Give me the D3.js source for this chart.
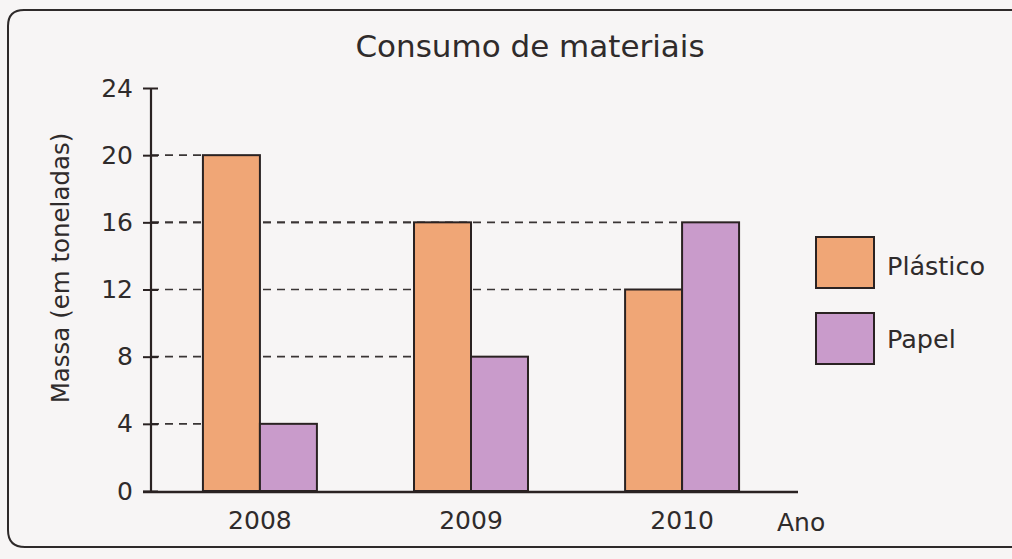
<!DOCTYPE html>
<html>
<head>
<meta charset="utf-8">
<script src="https://cdn.jsdelivr.net/npm/d3@7"></script>
<style>
  html, body { margin: 0; padding: 0; background: #f7f5f5; }
  svg { display: block; }
  text { font-family: "DejaVu Sans", sans-serif; fill: #2f2b2b; }
</style>
</head>
<body>
<svg id="chart" width="1012" height="559"></svg>
<script>
const years = ["2008", "2009", "2010"];
const seriesNames = ["Plástico", "Papel"];
const plastico = [20, 16, 12];
const papel = [4, 8, 16];
const yTicks = [0, 4, 8, 12, 16, 20, 24];
const colors = ["#f0a676", "#c99bcb"];

const svg = d3.select("#chart");

// frame
svg.append("path")
  .attr("d", "M1030,10 L24,10 Q8,10 8,26 L8,530 Q8,547 25,547 L1030,547")
  .attr("fill", "none").attr("stroke", "#2e2a2a").attr("stroke-width", 2);

const y = d3.scaleLinear().domain([0, 24]).range([491, 88]);
const x0 = d3.scaleBand().domain(years).range([151, 791]).paddingInner(0.46).paddingOuter(0.246);
const x1 = d3.scaleBand().domain(seriesNames).range([0, x0.bandwidth()]);

// title
svg.append("text").attr("x", 530).attr("y", 57).attr("text-anchor", "middle")
  .style("font-size", "31px").text("Consumo de materiais");

// dashed guide lines from axis to each bar's top
const data = [];
years.forEach((yr, i) => {
  data.push({year: yr, s: "Plástico", v: plastico[i], c: colors[0]});
  data.push({year: yr, s: "Papel", v: papel[i], c: colors[1]});
});
svg.append("g").selectAll("line").data(data).join("line")
  .attr("x1", 151).attr("x2", d => x0(d.year) + x1(d.s))
  .attr("y1", d => y(d.v)).attr("y2", d => y(d.v))
  .attr("stroke", "#3a3535").attr("stroke-width", 1.6).attr("stroke-dasharray", "8,6");

// bars
svg.append("g").selectAll("rect").data(data).join("rect")
  .attr("x", d => x0(d.year) + x1(d.s))
  .attr("y", d => y(d.v))
  .attr("width", x1.bandwidth())
  .attr("height", d => y(0) - y(d.v))
  .attr("fill", d => d.c)
  .attr("stroke", "#2a2222").attr("stroke-width", 2);

// y axis
const yAxis = d3.axisLeft(y).tickValues(yTicks).tickSize(0).tickPadding(18);
const gy = svg.append("g").attr("transform", "translate(151,0)").call(yAxis);
gy.select(".domain").remove();
gy.selectAll("text").style("font-size", "25px").style("font-family", "DejaVu Sans, sans-serif").attr("fill", "#2f2b2b");
gy.selectAll(".tick").append("line").attr("x1", -8).attr("x2", 7).attr("stroke", "#2a2222").attr("stroke-width", 2);
svg.append("line").attr("x1", 151).attr("x2", 151).attr("y1", y(24)).attr("y2", y(0) + 1)
  .attr("stroke", "#2a2222").attr("stroke-width", 2.2);

// x axis
svg.append("line").attr("x1", 143).attr("x2", 798).attr("y1", y(0) + 1).attr("y2", y(0) + 1)
  .attr("stroke", "#2a2222").attr("stroke-width", 2.6);
const xAxis = d3.axisBottom(x0).tickSize(0).tickPadding(20);
const gx = svg.append("g").attr("transform", `translate(0,${y(0)})`).call(xAxis);
gx.select(".domain").remove();
gx.selectAll("text").style("font-size", "25px").style("font-family", "DejaVu Sans, sans-serif").attr("fill", "#2f2b2b");

svg.append("text").attr("x", 777).attr("y", 531).style("font-size", "25px").text("Ano");

// y label
svg.append("text").attr("transform", "translate(69,268) rotate(-90)").attr("text-anchor", "middle")
  .style("font-size", "24.5px").text("Massa (em toneladas)");

// legend
const leg = svg.append("g").selectAll("g").data(seriesNames).join("g")
  .attr("transform", (d, i) => `translate(816,${237 + i * 76})`);
leg.append("rect").attr("width", 58).attr("height", 51)
  .attr("fill", (d, i) => colors[i]).attr("stroke", "#2a2222").attr("stroke-width", 2);
leg.append("text").attr("x", 71).attr("y", (d, i) => 38 - i * 3).style("font-size", "25.5px").text(d => d);
</script>
</body>
</html>
